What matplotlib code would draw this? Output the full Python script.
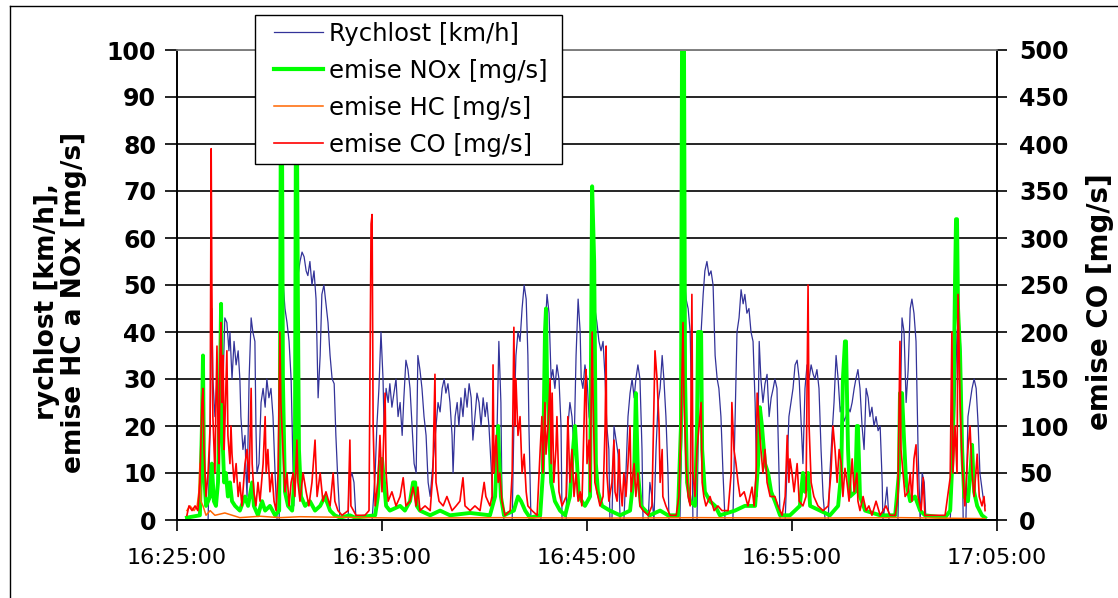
import matplotlib
matplotlib.use("Agg")
import matplotlib.pyplot as plt
from matplotlib.patches import Rectangle
from matplotlib.lines import Line2D

# ---------------- data (time in seconds after 16:25:00) ----------------
x_tick_sec = [0, 600, 1200, 1800, 2400]
x_tick_labels = ["16:25:00", "16:35:00", "16:45:00", "16:55:00", "17:05:00"]
left_ticks = [0, 10, 20, 30, 40, 50, 60, 70, 80, 90, 100]
right_ticks = [0, 50, 100, 150, 200, 250, 300, 350, 400, 450, 500]

speed_t = [29, 91, 97, 102, 105, 111, 117, 123, 129, 135, 140, 146, 152, 155, 161, 167, 173, 179, 184, 187,
           193, 199, 202, 205, 211, 217, 222, 228, 231, 234, 240, 246, 252, 258, 263, 269, 275, 281, 287, 293,
           299, 304, 310, 316, 322, 328, 334, 340, 342, 348, 354, 360, 366, 372, 378, 383, 389, 395, 401, 407,
           413, 419, 424, 430, 436, 442, 448, 454, 460, 465, 471, 477, 501, 503, 512, 518, 524, 571, 580, 585,
           591, 597, 603, 606, 612, 618, 623, 629, 635, 641, 647, 653, 659, 664, 670, 676, 682, 688, 694, 700,
           705, 711, 717, 723, 729, 735, 741, 749, 758, 764, 770, 776, 782, 787, 793, 799, 805, 808, 814, 820,
           825, 831, 837, 843, 849, 855, 861, 866, 872, 878, 884, 890, 896, 902, 907, 913, 919, 925, 931, 937,
           942, 948, 951, 957, 981, 986, 992, 998, 1004, 1010, 1016, 1022, 1027, 1030, 1036, 1065, 1071, 1077,
           1083, 1089, 1095, 1100, 1106, 1112, 1118, 1124, 1127, 1139, 1144, 1150, 1156, 1162, 1168, 1174,
           1180, 1183, 1188, 1194, 1200, 1206, 1212, 1218, 1223, 1229, 1235, 1241, 1247, 1253, 1258, 1264,
           1267, 1273, 1279, 1285, 1291, 1297, 1308, 1314, 1320, 1326, 1332, 1338, 1343, 1349, 1355, 1361,
           1364, 1379, 1384, 1390, 1396, 1402, 1408, 1414, 1420, 1425, 1431, 1437, 1440, 1472, 1478, 1484,
           1490, 1496, 1502, 1507, 1510, 1522, 1528, 1534, 1540, 1545, 1551, 1557, 1563, 1569, 1575, 1581,
           1586, 1592, 1598, 1604, 1627, 1633, 1639, 1645, 1651, 1657, 1662, 1668, 1674, 1680, 1686, 1692,
           1698, 1704, 1709, 1715, 1721, 1727, 1733, 1739, 1745, 1750, 1756, 1762, 1765, 1780, 1786, 1791,
           1797, 1803, 1809, 1815, 1821, 1826, 1832, 1838, 1844, 1850, 1856, 1862, 1867, 1873, 1879, 1885,
           1891, 1897, 1906, 1911, 1917, 1923, 1929, 1935, 1941, 1947, 1952, 1958, 1964, 1970, 1976, 1982,
           1987, 1993, 1999, 2005, 2011, 2017, 2023, 2028, 2034, 2040, 2046, 2052, 2058, 2064, 2066, 2072,
           2078, 2084, 2110, 2116, 2122, 2128, 2134, 2140, 2146, 2151, 2157, 2163, 2169, 2175, 2181, 2187,
           2192, 2263, 2271, 2277, 2283, 2289, 2295, 2301, 2309, 2315, 2321, 2327, 2333, 2339, 2345, 2350,
           2359, 2365]
speed_v = [0, 0, 20, 45, 30, 22, 30, 25, 35, 30, 43, 42, 36, 40, 30, 38, 33, 36, 30, 22,
           15, 18, 10, 5, 30, 43, 40, 38, 20, 10, 12, 25, 28, 24, 30, 26, 28, 22, 10, 0,
           0, 35, 51, 45, 42, 38, 30, 10, 3, 30, 52, 55, 57, 56, 53, 52, 55, 50, 53, 47,
           26, 35, 48, 50, 46, 42, 35, 30, 29, 18, 8, 0, 0, 8, 10, 8, 0, 0, 10, 20,
           28, 40, 30, 20, 28, 25, 29, 24, 27, 30, 22, 25, 18, 26, 34, 32, 28, 20, 12, 10,
           35, 32, 28, 22, 18, 8, 5, 12, 20, 25, 23, 28, 30, 27, 29, 25, 18, 10, 22, 25,
           20, 26, 22, 28, 24, 29, 26, 17, 22, 27, 25, 20, 26, 22, 25, 20, 12, 3, 5, 20,
           38, 25, 5, 0, 0, 20, 35, 40, 38, 45, 50, 47, 35, 20, 0, 0, 20, 40,
           48, 44, 30, 32, 28, 33, 30, 20, 0, 0, 20, 25, 22, 15, 35, 47,
           40, 30, 28, 33, 30, 22, 20, 40, 45, 42, 38, 36, 38, 30, 20, 15,
           0, 0, 20, 17, 14, 0, 0, 10, 22, 27, 30, 26, 30, 33, 30, 15,
           0, 0, 8, 5, 0, 15, 25, 28, 35, 30, 22, 10, 0, 0, 20, 52,
           47, 45, 40, 20, 0, 0, 30, 40, 48, 53, 55, 52, 53, 50, 35, 30,
           28, 22, 10, 0, 0, 20, 40, 43, 49, 46, 48, 44, 45, 40, 38, 25,
           5, 38, 30, 25, 29, 31, 22, 26, 28, 30, 28, 10, 0, 0, 12, 22,
           25, 28, 33, 34, 30, 22, 12, 28, 33, 30, 33, 31, 30, 32, 28, 15,
           5, 0, 0, 10, 18, 25, 35, 30, 23, 25, 21, 22, 24, 23, 25, 28,
           30, 32, 28, 20, 15, 28, 26, 22, 24, 20, 22, 19, 20, 8, 0, 3,
           7, 0, 0, 20, 43, 40, 25, 32, 45, 47, 44, 38, 15, 0, 10, 8,
           0, 0, 12, 25, 40, 43, 35, 0, 0, 22, 25, 28, 30, 28, 20, 10,
           5, 3]

nox_t = [29, 67, 73, 76, 79, 85, 97, 102, 108, 114, 120, 126, 129, 132, 138, 143, 149, 155, 161, 170,
         184, 199, 208, 220, 225, 237, 249, 258, 272, 287, 299, 301, 304, 307, 310, 316, 325, 337, 345, 348,
         351, 354, 357, 363, 375, 389, 404, 419, 433, 448, 462, 477, 506, 521, 580, 588, 594, 600, 606, 612,
         623, 653, 667, 682, 691, 697, 702, 711, 741, 770, 799, 858, 916, 931, 937, 940, 942, 948, 957, 986,
         998, 1007, 1019, 1033, 1063, 1071, 1077, 1080, 1083, 1089, 1095, 1106, 1121, 1136, 1150, 1159,
         1165, 1171, 1176, 1194, 1209, 1215, 1221, 1226, 1232, 1244, 1267, 1297, 1326, 1338, 1343, 1349,
         1358, 1384, 1414, 1437, 1466, 1475, 1478, 1484, 1487, 1493, 1502, 1516, 1522, 1525, 1534, 1537,
         1545, 1560, 1575, 1589, 1633, 1662, 1692, 1701, 1706, 1712, 1721, 1730, 1739, 1750, 1765, 1794,
         1823, 1832, 1838, 1847, 1853, 1882, 1911, 1935, 1944, 1949, 1955, 1958, 1964, 1970, 1985, 1990,
         1993, 1999, 2014, 2058, 2102, 2113, 2116, 2122, 2128, 2134, 2146, 2160, 2175, 2189, 2248, 2263,
         2271, 2277, 2280, 2283, 2286, 2292, 2298, 2304, 2315, 2324, 2327, 2333, 2342, 2356, 2365]
nox_v = [0.5, 1, 20, 35, 10, 3, 5, 12, 4, 3, 8, 30, 46, 20, 8, 10, 5, 8, 4, 3,
         2, 5, 3, 8, 3, 1, 4, 2, 3, 1, 2, 20, 90, 90, 30, 6, 3, 2, 10, 85,
         85, 45, 15, 5, 3, 4, 2, 3, 5, 2, 1, 0.5, 1, 0.5, 1, 5, 12, 13, 8, 3,
         2, 3, 2, 4, 8, 8, 3, 2, 1, 2, 1, 1.5, 1, 5, 15, 20, 15, 5, 1, 2,
         5, 4, 2, 0.5, 1, 10, 40, 45, 30, 20, 8, 4, 2, 1, 5, 15,
         20, 12, 5, 3, 5, 71, 55, 12, 6, 3, 2, 1, 2, 10, 27, 10,
         3, 1, 2, 1, 1, 20, 100, 100, 30, 8, 4, 3, 20, 40, 40, 15,
         6, 4, 3, 1, 2, 3, 3, 12, 24, 20, 12, 10, 6, 4, 1, 1,
         3, 10, 6, 10, 3, 2, 1, 3, 10, 30, 38, 38, 15, 5, 6, 20,
         20, 5, 2, 1, 1, 10, 27, 27, 17, 8, 4, 5, 2, 1, 0.5, 2,
         15, 50, 64, 64, 45, 35, 15, 5, 4, 12, 16, 6, 3, 1, 0.5]

hc_t = [29, 38, 50, 59, 64, 67, 70, 76, 85, 97, 111, 140, 184, 243, 301, 360, 653, 945, 1238, 1531, 1823, 2116, 2365]
hc_v = [2, 3, 2, 3, 6, 12, 4, 3, 1, 2, 1, 1.5, 0.5, 0.8, 0.5, 0.7, 0.4, 0.5, 0.4, 0.5, 0.4, 0.5, 0.3]

co_t = [29, 35, 44, 53, 61, 67, 73, 76, 79, 85, 91, 97, 100, 102, 105, 111, 114, 117, 120, 123,
        126, 129, 132, 135, 138, 140, 146, 149, 155, 158, 161, 167, 173, 179, 184, 190, 199, 205, 211, 217,
        220, 225, 231, 237, 243, 252, 258, 261, 266, 272, 278, 284, 290, 296, 301, 304, 310, 316, 322, 328,
        334, 340, 345, 351, 354, 360, 369, 378, 386, 395, 404, 410, 419, 427, 436, 448, 457, 462, 471, 483,
        501, 506, 509, 524, 550, 562, 568, 571, 574, 580, 588, 594, 600, 609, 612, 618, 629, 641, 653, 662,
        670, 682, 691, 700, 705, 711, 726, 741, 749, 755, 758, 767, 779, 790, 805, 817, 828, 837, 843, 858,
        872, 887, 899, 904, 916, 922, 925, 928, 934, 940, 945, 951, 960, 975, 981, 986, 989, 992, 998, 1004,
        1010, 1016, 1022, 1027, 1039, 1054, 1063, 1068, 1071, 1077, 1080, 1086, 1092, 1095, 1098, 1103, 1109,
        1112, 1118, 1127, 1139, 1144, 1150, 1156, 1162, 1168, 1174, 1180, 1185, 1194, 1197, 1200, 1206, 1209,
        1215, 1218, 1223, 1232, 1238, 1247, 1253, 1256, 1258, 1264, 1273, 1279, 1282, 1288, 1294, 1297, 1303,
        1308, 1314, 1320, 1326, 1329, 1338, 1343, 1349, 1355, 1364, 1379, 1390, 1399, 1405, 1411, 1414, 1420,
        1422, 1431, 1443, 1461, 1469, 1475, 1481, 1484, 1490, 1496, 1502, 1507, 1510, 1516, 1522, 1528, 1534,
        1537, 1542, 1548, 1560, 1572, 1583, 1595, 1613, 1622, 1624, 1630, 1636, 1642, 1648, 1660, 1671, 1683,
        1689, 1695, 1698, 1704, 1709, 1715, 1721, 1727, 1736, 1750, 1759, 1771, 1780, 1786, 1791, 1794, 1800,
        1806, 1815, 1821, 1832, 1841, 1847, 1850, 1856, 1864, 1876, 1891, 1906, 1914, 1920, 1926, 1932, 1938,
        1944, 1949, 1955, 1961, 1967, 1976, 1982, 1990, 1993, 1999, 2008, 2017, 2025, 2034, 2046, 2058, 2075,
        2087, 2102, 2110, 2116, 2119, 2125, 2131, 2140, 2146, 2151, 2157, 2163, 2169, 2178, 2184, 2189, 2219,
        2248, 2263, 2268, 2271, 2277, 2283, 2286, 2292, 2298, 2306, 2315, 2321, 2327, 2333, 2342, 2348, 2356,
        2362, 2365]
co_v = [5, 15, 10, 15, 10, 40, 125, 140, 75, 25, 50, 100, 395, 250, 110, 50, 125, 185, 100, 60,
        175, 210, 125, 175, 75, 100, 180, 90, 60, 100, 70, 40, 60, 25, 40, 15, 60, 75, 40, 140,
        60, 30, 15, 40, 20, 60, 110, 50, 75, 30, 50, 20, 10, 50, 200, 125, 75, 30, 50, 15,
        40, 50, 25, 85, 40, 20, 50, 30, 15, 40, 85, 25, 50, 20, 30, 15, 50, 20, 10, 5,
        10, 85, 15, 5, 5, 10, 315, 325, 100, 15, 40, 90, 30, 135, 50, 20, 30, 15, 25, 45,
        15, 20, 35, 15, 35, 10, 15, 10, 50, 155, 40, 20, 15, 25, 10, 15, 20, 45, 15, 10,
        15, 10, 40, 25, 15, 25, 165, 50, 90, 40, 50, 20, 5, 10, 50, 205, 100, 150, 90, 110,
        50, 70, 30, 15, 10, 5, 75, 110, 50, 125, 70, 100, 150, 60, 135, 40, 75,
        110, 30, 15, 25, 110, 40, 75, 25, 50, 20, 30, 15, 140, 160, 60, 85, 30,
        200, 125, 40, 25, 15, 25, 100, 185, 50, 20, 40, 85, 30, 20, 75, 40, 15,
        50, 25, 60, 100, 30, 60, 25, 50, 15, 10, 5, 15, 180, 150, 100, 40, 75,
        25, 15, 5, 5, 25, 100, 210, 125, 60, 25, 15, 240, 50, 25, 75, 100, 125,
        40, 25, 15, 25, 10, 15, 10, 10, 50, 125, 75, 60, 40, 25, 30, 15, 35,
        15, 50, 135, 100, 75, 50, 75, 40, 25, 25, 15, 5, 25, 90, 40, 65, 50,
        30, 60, 20, 15, 25, 250, 100, 40, 25, 15, 10, 15, 50, 100, 75, 40, 75,
        60, 25, 55, 40, 20, 65, 30, 50, 20, 10, 25, 10, 15, 5, 20, 5, 15,
        5, 5, 25, 190, 75, 50, 25, 30, 50, 20, 65, 80, 25, 10, 45, 5, 5,
        5, 45, 200, 50, 100, 50, 240, 125, 60, 15, 75, 100, 50, 25, 70, 25, 15,
        25, 10]

series_labels = ["Rychlost [km/h]", "emise NOx [mg/s]", "emise HC [mg/s]", "emise CO [mg/s]"]
series_colors = ["#333399", "#00FF00", "#FF6600", "#FF0000"]
series_widths = [0.9, 2.8, 1.1, 1.2]

# ---------------- figure ----------------
W, H = 1118, 598
fig = plt.figure(figsize=(W / 100, H / 100), dpi=100)
fig.patch.set_facecolor("white")
ax = fig.add_axes([177 / W, 1 - 520 / H, 820 / W, 470 / H])
ax2 = ax.twinx()

ax.plot(speed_t, speed_v, color=series_colors[0], lw=series_widths[0])
ax.plot(nox_t, nox_v, color=series_colors[1], lw=series_widths[1])
ax.plot(hc_t, hc_v, color=series_colors[2], lw=series_widths[2])
ax2.plot(co_t, co_v, color=series_colors[3], lw=series_widths[3])

ax.set_xlim(0, 2400)
ax.set_ylim(0, 100)
ax2.set_ylim(0, 500)

ax.set_axisbelow(True)
ax.set_yticks(left_ticks)
ax.set_yticklabels([str(v) for v in left_ticks], fontsize=17, fontweight="bold")
ax2.set_yticks(right_ticks)
ax2.set_yticklabels([str(v) for v in right_ticks], fontsize=17, fontweight="bold")
ax.set_xticks(x_tick_sec)
ax.set_xticklabels(x_tick_labels, fontsize=16)
ax.grid(axis="y", color="black", lw=1.2)
ax.grid(axis="x", visible=False)

ax.tick_params(axis="y", direction="out", length=9, width=1.2, pad=6)
ax2.tick_params(axis="y", direction="out", length=7, width=1.2, pad=9)
ax.tick_params(axis="x", direction="out", length=8, width=1.2, pad=12)

for a in (ax, ax2):
    a.spines["top"].set_color("#808080")
    a.spines["top"].set_linewidth(1.2)
    for s in ("left", "right", "bottom"):
        a.spines[s].set_color("black")
        a.spines[s].set_linewidth(1.2)

# axis titles
fig.text(61 / W, 1 - 302 / H, "rychlost [km/h],\nemise HC a NOx [mg/s]", rotation=90,
         ha="center", va="center", multialignment="center", fontsize=19, fontweight="bold",
         linespacing=1.05)
fig.text(1100 / W, 1 - 302 / H, "emise CO [mg/s]", rotation=90, ha="center", va="center",
         fontsize=20, fontweight="bold")

# outer chart border (left and top visible)
fig.add_artist(Line2D([10 / W, 10 / W], [0, 1 - 6 / H], transform=fig.transFigure, color="black", lw=1.0))
fig.add_artist(Line2D([10 / W, 1], [1 - 6 / H, 1 - 6 / H], transform=fig.transFigure, color="black", lw=1.0))

# legend
fig.add_artist(Rectangle((255 / W, 1 - 164 / H), 307 / W, 149 / H, transform=fig.transFigure,
                         facecolor="white", edgecolor="black", lw=1.0, zorder=4))
handles = [Line2D([], [], color=c, lw=w) for c, w in zip(series_colors, series_widths)]
handles[1].set_linewidth(3.0)
leg = fig.legend(handles, series_labels, loc="upper left", bbox_to_anchor=(274 / W, 1 - 22 / H),
                 frameon=False, fontsize=17.5, handlelength=2.0, handletextpad=0.25,
                 labelspacing=0.53, borderpad=0, borderaxespad=0)
leg.set_zorder(5)

fig.savefig("out.png", dpi=100)
